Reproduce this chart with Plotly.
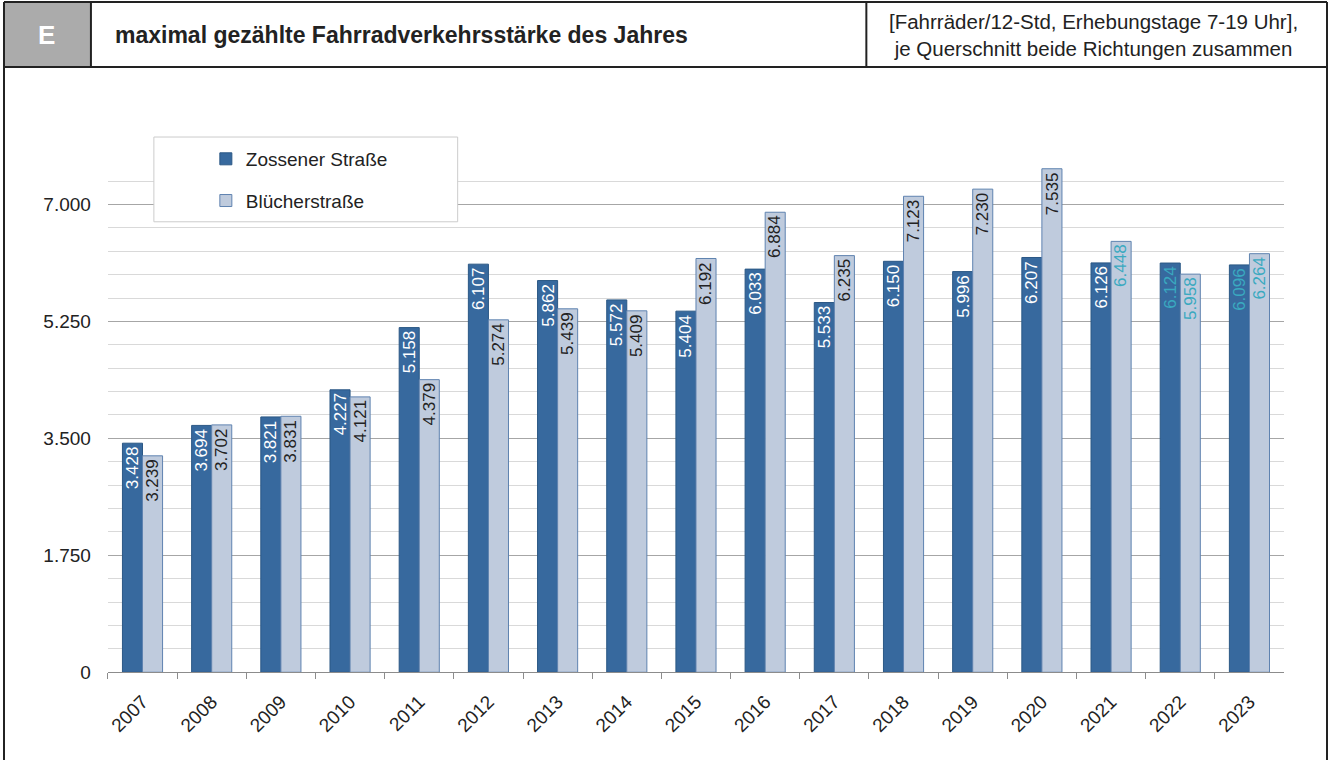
import plotly.graph_objects as go

years = ["2007", "2008", "2009", "2010", "2011", "2012", "2013", "2014", "2015",
         "2016", "2017", "2018", "2019", "2020", "2021", "2022", "2023"]
zossener = [3428, 3694, 3821, 4227, 5158, 6107, 5862, 5572, 5404,
            6033, 5533, 6150, 5996, 6207, 6126, 6124, 6096]
bluecher = [3239, 3702, 3831, 4121, 4379, 5274, 5439, 5409, 6192,
            6884, 6235, 7123, 7230, 7535, 6448, 5958, 6264]
series_names = ["Zossener Straße", "Blücherstraße"]
y_ticks = [0, 1750, 3500, 5250, 7000]

TEAL = "#3aa9c0"
W, H = 1330, 771
FONT = "Arial, Liberation Sans, sans-serif"

z_txt_col = ["white"] * 15 + [TEAL, TEAL]
b_txt_col = ["#222222"] * 14 + [TEAL, TEAL, TEAL]

fig = go.Figure()
fig.add_trace(go.Bar(
    x=years, y=zossener, name=series_names[0], legendgroup="a",
    marker=dict(color="#37699e", line=dict(color="#2b5885", width=1)),
    hoverinfo="skip",
))
fig.add_trace(go.Bar(
    x=years, y=bluecher, name=series_names[1], legendgroup="b",
    marker=dict(color="#bfcbdd", line=dict(color="#5f83b0", width=1)),
    hoverinfo="skip",
))

# value labels, rotated, anchored to each bar top through the axes (category index)
for vals, cols, shift in ((zossener, z_txt_col, -10), (bluecher, b_txt_col, 10)):
    for i, (v, c) in enumerate(zip(vals, cols)):
        fig.add_annotation(
            x=i, y=v, xref="x", yref="y", text=f"{v:,}".replace(",", "."),
            showarrow=False, textangle=-90, xanchor="center", yanchor="top",
            xshift=shift, yshift=-2, borderpad=0,
            font=dict(size=17, color=c, family=FONT),
        )

x0, x1 = 107 / W, 1284 / W
y0, y1 = 1 - 682 / H, 1 - 160 / H

fig.update_layout(
    width=W, height=H, autosize=False,
    margin=dict(l=0, r=0, t=0, b=0),
    paper_bgcolor="white", plot_bgcolor="white",
    separators=",.",
    font=dict(family=FONT, size=14, color="#222222"),
    barmode="group", bargap=0.42, bargroupgap=0.0,
    showlegend=True,
    legend=dict(
        x=205 / W, y=1 - 142 / H, xanchor="left", yanchor="top",
        bgcolor="rgba(0,0,0,0)", borderwidth=0,
        font=dict(size=19, family=FONT, color="#222222"),
        traceorder="grouped", tracegroupgap=14,
    ),
    xaxis=dict(
        domain=[x0, x1], type="category", range=[-0.5, len(years) - 0.5],
        showline=True, linecolor="#8c8c8c", linewidth=1,
        ticks="outside", tickson="boundaries", ticklen=6, tickcolor="#8c8c8c",
        tickangle=-45, tickfont=dict(size=19, color="#222222"),
        ticklabelstandoff=10,
        showgrid=False,
    ),
    yaxis=dict(
        domain=[y0, y1], range=[0, 7700],
        tickvals=y_ticks, tickformat=",d",
        tickfont=dict(size=19, color="#222222"),
        ticklabelstandoff=16,
        showgrid=True, gridcolor="#a6a6a6", gridwidth=1,
        zeroline=False, showline=False,
        minor=dict(dtick=350, tick0=0, showgrid=True, gridcolor="#d9d9d9", gridwidth=1),
    ),
)

# legend box
fig.add_shape(type="rect", xref="paper", yref="paper",
              x0=153 / W, x1=457 / W, y0=1 - 225 / H, y1=1 - 139 / H,
              fillcolor="white", line=dict(color="#cccccc", width=1), layer="above")

# header frame
LC = "#222222"
def pline(xa, ya, xb, yb, w=2):
    fig.add_shape(type="line", xref="paper", yref="paper",
                  x0=xa / W, y0=1 - ya / H, x1=xb / W, y1=1 - yb / H,
                  line=dict(color=LC, width=w), layer="above")

fig.add_shape(type="rect", xref="paper", yref="paper",
              x0=3 / W, x1=90 / W, y0=1 - 68 / H, y1=1 - 2 / H,
              fillcolor="#ababab", line=dict(width=0), layer="above")
pline(3, 2, 1327, 2)
pline(3, 68, 1327, 68)
pline(3, 2, 3, 771)
pline(1327, 2, 1327, 771)
pline(90, 2, 90, 68)
pline(866, 2, 866, 68)

fig.add_annotation(xref="paper", yref="paper", x=46 / W, y=1 - 36 / H,
                   xanchor="center", yanchor="middle",
                   text="<b>E</b>", showarrow=False,
                   font=dict(size=26, color="white", family=FONT))
fig.add_annotation(xref="paper", yref="paper", x=112 / W, y=1 - 36 / H,
                   xanchor="left", yanchor="middle",
                   text="<b>maximal gezählte Fahrradverkehrsstärke des Jahres</b>",
                   showarrow=False, font=dict(size=23, color="#222222", family=FONT))
fig.add_annotation(xref="paper", yref="paper", x=1093 / W, y=1 - 36 / H,
                   xanchor="center", yanchor="middle",
                   text="[Fahrräder/12-Std, Erhebungstage 7-19 Uhr],<br>je Querschnitt beide Richtungen zusammen",
                   showarrow=False, align="center",
                   font=dict(size=20.5, color="#222222", family=FONT))

fig.write_html(
    "out.html",
    config={"displayModeBar": False, "responsive": False},
    post_script=(
        "document.body.style.margin='0';"
        "document.body.style.overflow='hidden';"
        "var gd=document.getElementById('{plot_id}');"
        "gd.style.position='fixed';gd.style.left='0px';gd.style.top='0px';"
    ),
)
